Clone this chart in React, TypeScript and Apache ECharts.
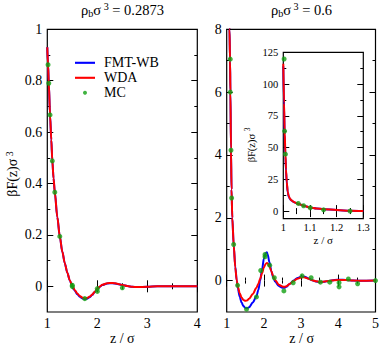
import React, { useEffect, useRef } from "react";
import * as echarts from "echarts";

const SERIF = "Liberation Serif, DejaVu Serif, serif";
const BLUE = "#0000ff";
const RED = "#ff0000";
const GREEN = "#12a012";

// ---------- left panel: rho_b sigma^3 = 0.2873 ----------
const LEFT_Z = [1.0, 1.015, 1.03, 1.055, 1.08, 1.1, 1.125, 1.15, 1.2, 1.25, 1.3, 1.35, 1.4, 1.45, 1.5, 1.55, 1.6, 1.65, 1.7, 1.75, 1.8, 1.85, 1.9, 1.95, 2.0, 2.05, 2.1, 2.2, 2.3, 2.4, 2.5, 2.6, 2.7, 2.8, 3.0, 3.2, 3.5, 4.0];
const LEFT_FMT = [0.93, 0.862, 0.79, 0.667, 0.57, 0.49, 0.42, 0.366, 0.27, 0.194, 0.135, 0.09, 0.053, 0.023, 0.0, -0.017, -0.031, -0.041, -0.047, -0.05, -0.048, -0.042, -0.033, -0.022, -0.011, -0.002, 0.005, 0.011, 0.012, 0.009, 0.005, 0.001, -0.002, -0.003, -0.002, 0.0, 0.0, 0.0];
const LEFT_WDA = [0.93, 0.862, 0.79, 0.667, 0.57, 0.49, 0.42, 0.366, 0.27, 0.194, 0.135, 0.09, 0.053, 0.024, 0.002, -0.015, -0.028, -0.038, -0.044, -0.047, -0.045, -0.04, -0.032, -0.021, -0.01, -0.001, 0.006, 0.012, 0.013, 0.01, 0.005, 0.001, -0.002, -0.003, -0.002, 0.0, 0.0, 0.0];
const LEFT_MC_Z = [1.015, 1.03, 1.055, 1.1, 1.15, 1.25, 1.5, 1.5, 1.75, 2.0, 2.0, 2.5];
const LEFT_MC = [0.862, 0.79, 0.667, 0.488, 0.366, 0.194, 0.004, -0.001, -0.048, -0.009, -0.02, -0.006];

// ---------- right panel: rho_b sigma^3 = 0.6 ----------
const RIGHT_Z = [1.06, 1.075, 1.09, 1.1, 1.115, 1.13, 1.15, 1.19, 1.23, 1.27, 1.3, 1.35, 1.4, 1.45, 1.5, 1.55, 1.6, 1.7, 1.8, 1.85, 1.9, 1.95, 2.0, 2.05, 2.08, 2.1, 2.15, 2.2, 2.25, 2.3, 2.4, 2.5, 2.55, 2.6, 2.7, 2.8, 2.9, 3.0, 3.05, 3.1, 3.2, 3.3, 3.4, 3.5, 3.6, 3.75, 3.9, 4.05, 4.2, 4.4, 4.7, 5.0];
const RIGHT_FMT = [9.5, 8.0, 7.0, 6.0, 4.2, 2.9, 2.0, 1.1, 0.45, 0.0, -0.25, -0.52, -0.7, -0.81, -0.87, -0.88, -0.85, -0.7, -0.5, -0.3, 0.0, 0.35, 0.7, 0.88, 0.9, 0.84, 0.58, 0.3, 0.1, -0.03, -0.17, -0.23, -0.23, -0.2, -0.1, 0.0, 0.08, 0.12, 0.13, 0.12, 0.07, 0.01, -0.03, -0.05, -0.04, -0.01, 0.02, 0.03, 0.02, 0.0, -0.005, 0.0];
const RIGHT_WDA = [9.5, 8.0, 7.0, 6.0, 4.2, 2.9, 2.0, 1.1, 0.42, 0.0, -0.2, -0.4, -0.54, -0.62, -0.645, -0.63, -0.58, -0.43, -0.23, -0.1, 0.06, 0.23, 0.42, 0.54, 0.56, 0.55, 0.45, 0.3, 0.14, 0.02, -0.13, -0.19, -0.2, -0.18, -0.1, -0.01, 0.06, 0.1, 0.105, 0.1, 0.06, 0.01, -0.02, -0.04, -0.035, -0.01, 0.01, 0.02, 0.015, 0.0, -0.005, 0.0];
const RIGHT_MC_Z = [1.096, 1.096, 1.115, 1.133, 1.187, 1.293, 1.533, 1.8, 1.915, 2.03, 2.03, 2.155, 2.28, 2.537, 2.787, 3.027, 3.27, 3.52, 3.77, 4.02, 4.02, 4.27, 4.52, 5.0];
const RIGHT_MC = [7.05, 6.0, 4.15, 2.63, 1.15, -0.15, -0.91, -0.52, 0.32, 0.76, 0.83, 0.49, 0.09, -0.33, -0.07, 0.15, 0.09, -0.05, -0.05, -0.07, -0.2, 0.05, -0.1, 0.0];

// ---------- inset ----------
const INSET_Z = [1.0, 1.003, 1.005, 1.008, 1.01, 1.013, 1.0165, 1.02, 1.025, 1.03, 1.04, 1.05, 1.06, 1.08, 1.1, 1.125, 1.15, 1.2, 1.25, 1.3];
const INSET_FMT = [114, 82, 60, 43, 32, 22, 15, 11.5, 9.5, 8.4, 7.0, 6.1, 5.3, 4.0, 2.8, 2.0, 1.5, 0.8, 0.3, 0.0];
const INSET_WDA = [116, 85, 63, 45, 33, 23, 15.5, 12, 9.8, 8.6, 7.1, 6.2, 5.3, 4.0, 2.8, 2.0, 1.5, 0.8, 0.3, 0.0];
const INSET_MC_Z = [1.003, 1.005, 1.008, 1.056, 1.076, 1.101, 1.151, 1.25];
const INSET_MC = [119.7, 63, 44.8, 6.0, 4.2, 2.6, 1.0, 0.0];

// ---------- ticks ----------
const LEFT_Y_MAJOR = [0, 0.2, 0.4, 0.6, 0.8, 1];
const LEFT_Y_MINOR = [0.1, 0.3, 0.5, 0.7, 0.9];
const RIGHT_Y_MAJOR = [0, 2, 4, 6, 8];
const RIGHT_Y_MINOR = [1, 3, 5, 7];
const INSET_Y_MAJOR = [0, 25, 50, 75, 100, 125];
const INSET_Y_MINOR = [12.5, 37.5, 62.5, 87.5, 112.5];

const TITLES = ["0.2873", "0.6"];
const LEGEND = ["FMT-WB", "WDA", "MC"];

const zip = (xs: number[], ys: number[]) => xs.map((x, i) => [x, ys[i]]);

const tickLine = { color: "#000", width: 1 };

function xAxes(gridIndex: number, min: number, max: number, interval: number, fontSize: number, margin: number, fmt: (v: number) => string) {
  const base = {
    type: "value",
    gridIndex,
    min,
    max,
    interval,
    axisLine: { show: false },
    splitLine: { show: false },
    axisTick: { show: true, inside: true, length: 6, lineStyle: tickLine },
    minorTick: { show: true, splitNumber: 2, length: 3, lineStyle: tickLine },
  };
  return [
    {
      ...base,
      position: "bottom",
      axisLabel: { show: true, fontFamily: SERIF, fontSize, color: "#000", margin, formatter: fmt },
    },
    { ...base, position: "top", axisLabel: { show: false } },
  ];
}

function yAxes(gridIndex: number, min: number, max: number, major: number[], minor: number[], fontSize: number, margin: number, fmt: (v: number) => string) {
  const base = {
    type: "value",
    gridIndex,
    min,
    max,
    axisLine: { show: false },
    splitLine: { show: false },
  };
  const res: any[] = [];
  for (const pos of ["left", "right"]) {
    res.push({
      ...base,
      position: pos,
      axisTick: { show: true, inside: true, length: 6, lineStyle: tickLine, customValues: major },
      axisLabel: pos === "left"
        ? { show: true, fontFamily: SERIF, fontSize, color: "#000", margin, customValues: major, formatter: fmt }
        : { show: false },
    });
    res.push({
      ...base,
      position: pos,
      axisTick: { show: true, inside: true, length: 3, lineStyle: tickLine, customValues: minor },
      axisLabel: { show: false },
    });
  }
  return res;
}

const richBase = (fs: number) => ({
  n: { fontFamily: SERIF, fontSize: fs, lineHeight: fs + 3, color: "#000" },
  sub: { fontFamily: SERIF, fontSize: fs * 0.7, lineHeight: fs * 0.7, verticalAlign: "bottom", color: "#000" },
  sup: { fontFamily: SERIF, fontSize: fs * 0.7, lineHeight: fs * 0.7, verticalAlign: "top", padding: [0, 0, 0, 2.5], color: "#000" },
});

function lineSeries(name: string, color: string, xi: number, yi: number, data: number[][]) {
  return {
    type: "line",
    name,
    xAxisIndex: xi,
    yAxisIndex: yi,
    data,
    symbol: "none",
    smooth: 0.3,
    smoothMonotone: "x",
    clip: true,
    lineStyle: { color, width: 2 },
    itemStyle: { color },
  };
}

function mcSeries(xi: number, yi: number, data: number[][]) {
  return {
    type: "scatter",
    name: "MC",
    xAxisIndex: xi,
    yAxisIndex: yi,
    data,
    symbol: "circle",
    symbolSize: 5,
    itemStyle: { color: GREEN },
    z: 5,
  };
}

const intFmt = (v: number) => String(Math.round(v));
const oneFmt = (v: number) => String(Math.round(v * 10) / 10);
const LINE_ICON = "path://M0,0 H19 V2 H0 Z";

export default function App() {
  const ref = useRef<HTMLDivElement>(null);
  useEffect(() => {
    if (!ref.current) return;
    const chart = echarts.init(ref.current, undefined, { renderer: "svg" });
    const gridBase = { show: true, borderColor: "#000", borderWidth: 1.2, backgroundColor: "transparent" };
    const option: any = {
      animation: false,
      backgroundColor: "#fff",
      grid: [
        { ...gridBase, left: 47.3, top: 29.3, width: 150, height: 282.7 },
        { ...gridBase, left: 226.7, top: 29.3, width: 150, height: 282.7 },
        { ...gridBase, left: 283.3, top: 52.3, width: 80, height: 166.4 },
      ],
      xAxis: [
        ...xAxes(0, 1, 4, 1, 14, 4, intFmt),
        ...xAxes(1, 1, 5, 1, 14, 4, intFmt),
        ...xAxes(2, 1, 1.3, 0.1, 10.5, 3, (v: number) => (Math.abs(v - 1) < 1e-9 ? "1" : v.toFixed(1))),
      ],
      yAxis: [
        ...yAxes(0, -0.1, 1, LEFT_Y_MAJOR, LEFT_Y_MINOR, 14, 5, oneFmt),
        ...yAxes(1, -1, 8, RIGHT_Y_MAJOR, RIGHT_Y_MINOR, 14, 5, intFmt),
        ...yAxes(2, -6, 125, INSET_Y_MAJOR, INSET_Y_MINOR, 10.5, 5, intFmt),
      ],
      legend: {
        data: [
          { name: LEGEND[0], icon: LINE_ICON },
          { name: LEGEND[1], icon: LINE_ICON },
          { name: LEGEND[2], icon: "circle" },
        ],
        orient: "vertical",
        left: 75,
        top: 55.8,
        padding: 0,
        itemWidth: 20,
        itemHeight: 4,
        itemGap: 1,
        symbolKeepAspect: true,
        textStyle: { fontFamily: SERIF, fontSize: 14, color: "#000", lineHeight: 12.3, padding: [0, 0, 0, 4] },
        selectedMode: false,
      },
      series: [
        lineSeries("FMT-WB", BLUE, 0, 0, zip(LEFT_Z, LEFT_FMT)),
        lineSeries("WDA", RED, 0, 0, zip(LEFT_Z, LEFT_WDA)),
        mcSeries(0, 0, zip(LEFT_MC_Z, LEFT_MC)),
        lineSeries("FMT-WB", BLUE, 2, 4, zip(RIGHT_Z, RIGHT_FMT)),
        lineSeries("WDA", RED, 2, 4, zip(RIGHT_Z, RIGHT_WDA)),
        mcSeries(2, 4, zip(RIGHT_MC_Z, RIGHT_MC)),
        lineSeries("FMT-WB", BLUE, 4, 8, zip(INSET_Z, INSET_FMT)),
        lineSeries("WDA", RED, 4, 8, zip(INSET_Z, INSET_WDA)),
        mcSeries(4, 8, zip(INSET_MC_Z, INSET_MC)),
      ],
      graphic: [
        {
          type: "text", x: 122.5, y: 10,
          style: { text: `{n|ρ}{sub|b}{n|σ}{sup|3}{n| = ${TITLES[0]}}`, rich: richBase(14.5), align: "center", verticalAlign: "middle" },
        },
        {
          type: "text", x: 301.5, y: 10,
          style: { text: `{n|ρ}{sub|b}{n|σ}{sup|3}{n| = ${TITLES[1]}}`, rich: richBase(14.5), align: "center", verticalAlign: "middle" },
        },
        {
          type: "text", x: 12.5, y: 174, rotation: Math.PI / 2,
          style: { text: "{n|βF(z)σ}{sup|3}", rich: richBase(14), align: "center", verticalAlign: "middle" },
        },
        {
          type: "text", x: 251, y: 145, rotation: Math.PI / 2,
          style: { text: "{n|βF(z)σ}{sup|3}", rich: richBase(10.5), align: "center", verticalAlign: "middle" },
        },
        {
          type: "text", x: 122.3, y: 338,
          style: { text: "z / σ", fontFamily: SERIF, fontSize: 14, fill: "#000", align: "center", verticalAlign: "middle" },
        },
        {
          type: "text", x: 301.7, y: 338,
          style: { text: "z / σ", fontFamily: SERIF, fontSize: 14, fill: "#000", align: "center", verticalAlign: "middle" },
        },
        {
          type: "text", x: 323.3, y: 240,
          style: { text: "z / σ", fontFamily: SERIF, fontSize: 11, fill: "#000", align: "center", verticalAlign: "middle" },
        },
      ],
    };
    chart.setOption(option);
    return () => chart.dispose();
  }, []);
  return <div ref={ref} style={{ position: "absolute", left: 0, top: 0, width: 382, height: 344 }} />;
}
